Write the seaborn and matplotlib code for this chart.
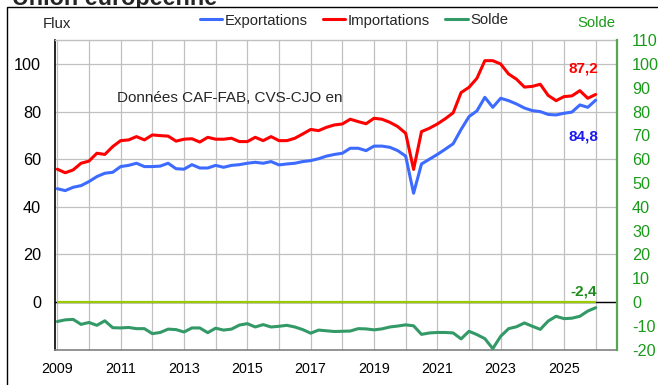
import numpy as np
import pandas as pd
import matplotlib
matplotlib.use("Agg")
import matplotlib.pyplot as plt
from matplotlib.patches import Rectangle
import seaborn as sns

# Quarterly trade flows with the EU, from 2009 Q1 (Md€, CVS-CJO)
start_year = 2009
exportations = [
    47.6, 46.8, 48.2, 48.9, 50.6, 52.7, 54.1, 54.5, 56.9, 57.4,
    58.3, 56.9, 56.9, 57.1, 58.3, 56.0, 55.8, 57.7, 56.3, 56.3,
    57.4, 56.6, 57.4, 57.7, 58.3, 58.7, 58.3, 59.0, 57.6, 58.0,
    58.3, 59.0, 59.4, 60.2, 61.3, 62.0, 62.5, 64.6, 64.6, 63.6,
    65.5, 65.5, 65.0, 63.6, 61.3, 45.7, 58.0, 60.0, 62.0, 64.2,
    66.5, 72.5, 77.9, 80.3, 86.0, 81.8, 85.6, 84.6, 83.2, 81.5,
    80.4, 80.0, 78.8, 78.6, 79.3, 79.8, 82.8, 81.8, 84.8,
]
importations = [
    55.8, 54.3, 55.5, 58.3, 59.2, 62.5, 62.0, 65.3, 67.8, 68.1,
    69.5, 68.1, 70.2, 69.9, 69.7, 67.6, 68.4, 68.6, 67.2, 69.2,
    68.4, 68.4, 68.8, 67.4, 67.4, 69.2, 67.8, 69.5, 67.8, 67.8,
    68.8, 70.6, 72.5, 72.0, 73.4, 74.4, 74.8, 76.8, 75.8, 74.9,
    77.2, 76.8, 75.5, 73.7, 70.9, 55.7, 71.6, 73.0, 74.8, 77.0,
    79.5, 88.0, 90.2, 94.0, 101.4, 101.4, 100.0, 95.8, 93.6, 90.3,
    90.6, 91.5, 86.8, 84.6, 86.3, 86.6, 88.8, 85.6, 87.2,
]
solde = [
    -8.2, -7.5, -7.3, -9.4, -8.6, -9.8, -7.9, -10.8, -10.9, -10.7,
    -11.2, -11.2, -13.3, -12.8, -11.4, -11.6, -12.6, -10.9, -10.9, -12.9,
    -11.0, -11.8, -11.4, -9.7, -9.1, -10.5, -9.5, -10.5, -10.2, -9.8,
    -10.5, -11.6, -13.1, -11.8, -12.1, -12.4, -12.3, -12.2, -11.2, -11.3,
    -11.7, -11.3, -10.5, -10.1, -9.6, -10.0, -13.6, -13.0, -12.8, -12.8,
    -13.0, -15.5, -12.3, -13.7, -15.4, -19.6, -14.4, -11.2, -10.4, -8.8,
    -10.2, -11.5, -8.0, -6.0, -7.0, -6.8, -6.0, -3.8, -2.4,
]
year_ticks = list(range(2009, 2027))
year_labels = ["2009", "", "2011", "", "2013", "", "2015", "", "2017", "",
               "2019", "", "2021", "", "2023", "", "2025", ""]
flux_ticks = [0, 20, 40, 60, 80, 100]
solde_ticks = [-20, -10, 0, 10, 20, 30, 40, 50, 60, 70, 80, 90, 100, 110]

periode = start_year + np.arange(len(exportations)) / 4
df = pd.DataFrame({
    "periode": periode,
    "Exportations": exportations,
    "Importations": importations,
    "Solde": solde,
})

sns.set_theme(style="white")
plt.rcParams["font.family"] = ["Liberation Sans", "DejaVu Sans"]
plt.rcParams["axes.unicode_minus"] = False

BLUE = "#3D6BFF"
RED = "#FF0000"
GREEN_LINE = "#339966"
GREEN_TXT = "#1A9A1A"
ZERO_LINE = "#99CC00"

W, H = 658, 385
fig = plt.figure(figsize=(W / 100, H / 100), dpi=100)


def fx(px):
    return px / W


def fy(py):
    return 1 - py / H


# Title (partly hidden behind the chart frame)
fig.text(fx(12), fy(4.5), "Union européenne", fontsize=16.8, fontweight="bold",
         va="baseline", ha="left", zorder=0.5)
fig.patches.append(Rectangle((fx(7), -0.2), 1.5, fy(7) + 0.2,
                             transform=fig.transFigure, facecolor="white",
                             edgecolor="black", lw=1.0, zorder=1))

top_px, bot_px = 40.2, 349.6
ax = fig.add_axes([fx(55), fy(bot_px), fx(617) - fx(55), (bot_px - top_px) / H])
ax.set_zorder(2)
ax.patch.set_facecolor("white")

ax.set_xlim(2009 - 2.3 / 31.67, 2009 - 2.3 / 31.67 + 562 / 31.67)
ax.set_ylim(-20, 110)

ax.axhline(0, color="black", lw=1.0, zorder=1.5)
ax.hlines(0, periode[0], periode[-1], color=ZERO_LINE, lw=1.6, zorder=1.8)

lw = 2.2
sns.lineplot(data=df, x="periode", y="Exportations", ax=ax, color=BLUE, lw=lw,
             label="Exportations", zorder=3)
sns.lineplot(data=df, x="periode", y="Importations", ax=ax, color=RED, lw=lw,
             label="Importations", zorder=3)
sns.lineplot(data=df, x="periode", y="Solde", ax=ax, color=GREEN_LINE, lw=lw,
             label="Solde", zorder=3)

ax.set_xlabel("")
ax.set_ylabel("")
ax.set_xticks(year_ticks)
ax.set_xticklabels(year_labels)
ax.set_yticks(flux_ticks)
ax.tick_params(axis="x", length=0, pad=9.0, labelsize=10.3, colors="black")
ax.tick_params(axis="y", length=0, pad=10.0, labelsize=11.7, colors="black")
ax.grid(True, color="#C0C0C0", lw=0.9)
ax.set_axisbelow(True)

ax.spines["left"].set_color("black")
ax.spines["left"].set_linewidth(1.2)
ax.spines["bottom"].set_color("#808080")
ax.spines["bottom"].set_linewidth(1.2)
ax.spines["top"].set_color("#C0C0C0")
ax.spines["top"].set_linewidth(1.0)
ax.spines["right"].set_visible(False)

handles, labels = ax.get_legend_handles_labels()
ax.legend(handles, labels, loc="center left",
          bbox_to_anchor=(fx(200), fy(20.5)), bbox_transform=fig.transFigure,
          ncol=3, frameon=False, fontsize=10.7, handlelength=1.5,
          handletextpad=0.15, columnspacing=1.05, borderpad=0, borderaxespad=0)

ax2 = ax.twinx()
ax2.set_zorder(2.5)
ax2.set_ylim(-20, 110)
ax2.set_yticks(solde_ticks)
ax2.tick_params(axis="y", length=0, pad=10.8, labelsize=11.7, colors=GREEN_TXT)
ax2.grid(False)
for side in ["left", "top", "bottom"]:
    ax2.spines[side].set_visible(False)
ax2.spines["right"].set_color("#5BA552")
ax2.spines["right"].set_linewidth(1.6)


# Last values
def fmt(v):
    return f"{v:.1f}".replace(".", ",")


t_last = periode[-1]
ax.annotate(fmt(importations[-1]), xy=(t_last, importations[-1]),
            xytext=(2.3, 21.8), textcoords="offset pixels", ha="right",
            va="baseline", fontsize=11, fontweight="bold", color=RED)
ax.annotate(fmt(exportations[-1]), xy=(t_last, exportations[-1]),
            xytext=(2.3, -40.5), textcoords="offset pixels", ha="right",
            va="baseline", fontsize=11, fontweight="bold", color="#1A1AF0")
ax.annotate(fmt(solde[-1]), xy=(t_last, solde[-1]),
            xytext=(1.3, 12.7), textcoords="offset pixels", ha="right",
            va="baseline", fontsize=11, fontweight="bold", color="#1E8C1E")

fig.text(fx(43), fy(28), "Flux", fontsize=10.8, va="baseline", ha="left")
fig.text(fx(577), fy(27.3), "Solde", fontsize=10.7, va="baseline", ha="left",
         color=GREEN_TXT)
fig.text(fx(116.7), fy(102), "Données CAF-FAB, CVS-CJO en", fontsize=11,
         va="baseline", ha="left")

fig.savefig("out.png", dpi=100)
